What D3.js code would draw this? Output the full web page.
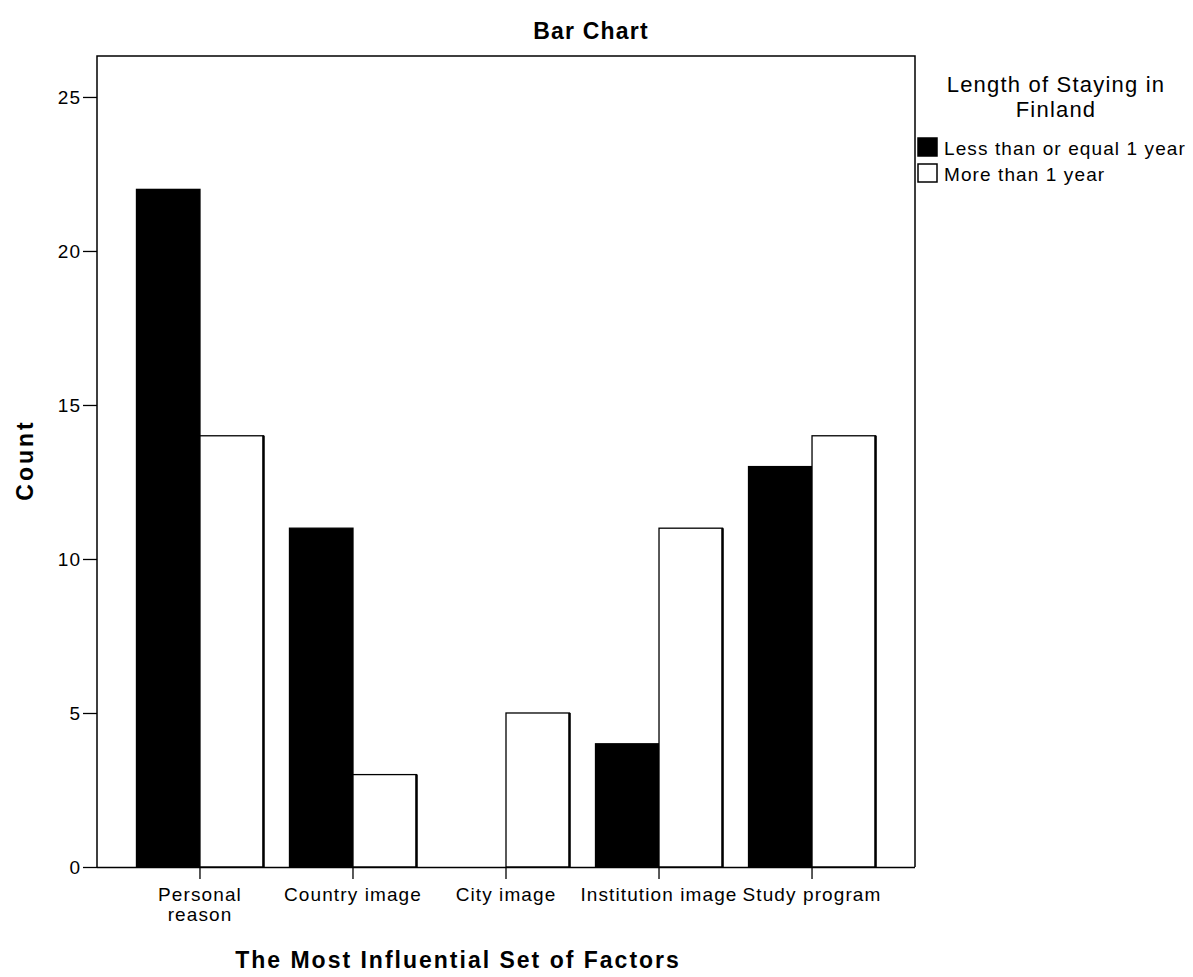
<!DOCTYPE html>
<html>
<head>
<meta charset="utf-8">
<script src="https://cdn.jsdelivr.net/npm/d3@7"></script>
<style>
  html, body { margin: 0; padding: 0; background: #fff; }
  text { font-family: "Liberation Sans", Arial, sans-serif; fill: #000; }
</style>
</head>
<body>
<svg id="chart" width="1193" height="977"></svg>
<script>
// ---- data ----
const categories = ["Personal reason", "Country image", "City image", "Institution image", "Study program"];
const tickLabels = [["Personal", "reason"], ["Country image"], ["City image"], ["Institution image"], ["Study program"]];
const seriesNames = ["Less than or equal 1 year", "More than 1 year"];
const lessValues = [22, 11, 0, 4, 13];
const moreValues = [14, 3, 5, 11, 14];
const yTicks = [0, 5, 10, 15, 20, 25];
const chartTitle = "Bar Chart";
const xTitle = "The Most Influential Set of Factors";
const yTitle = "Count";
const legendTitle = ["Length of Staying in", "Finland"];

// ---- layout ----
const svg = d3.select("#chart");
const plot = { left: 97, right: 915, top: 56, bottom: 867 };
const yMax = 26.33;
const fills = ["#000", "#fff"];

const x = d3.scaleBand().domain(categories).range([plot.left, plot.right])
  .paddingInner(0.17).paddingOuter(0.258);
const xs = d3.scaleBand().domain(seriesNames).range([0, x.bandwidth()]).padding(0);
const y = d3.scaleLinear().domain([0, yMax]).range([plot.bottom, plot.top]);

const rows = [];
categories.forEach((c, i) => {
  rows.push({ cat: c, s: seriesNames[0], v: lessValues[i], fill: fills[0] });
  rows.push({ cat: c, s: seriesNames[1], v: moreValues[i], fill: fills[1] });
});

// bars
const bars = svg.append("g");
bars.selectAll("rect").data(rows.filter(d => d.v > 0)).join("rect")
  .attr("x", d => x(d.cat) + xs(d.s))
  .attr("y", d => y(d.v))
  .attr("width", xs.bandwidth())
  .attr("height", d => y(0) - y(d.v))
  .attr("fill", d => d.fill)
  .attr("stroke", "#000")
  .attr("stroke-width", 1.3);
// heavier right edge on white bars (shadow-like look)
bars.selectAll("line").data(rows.filter(d => d.v > 0 && d.fill === "#fff")).join("line")
  .attr("x1", d => x(d.cat) + xs(d.s) + xs.bandwidth())
  .attr("x2", d => x(d.cat) + xs(d.s) + xs.bandwidth())
  .attr("y1", d => y(d.v))
  .attr("y2", y(0))
  .attr("stroke", "#000")
  .attr("stroke-width", 2.5);

// frame (left, top, right)
svg.append("path")
  .attr("d", `M${plot.left},${plot.bottom}V${plot.top}H${plot.right}V${plot.bottom}`)
  .attr("fill", "none").attr("stroke", "#000").attr("stroke-width", 1.5);

// y axis
const yAxis = svg.append("g").attr("transform", `translate(${plot.left},0)`)
  .call(d3.axisLeft(y).tickValues(yTicks).tickSize(14).tickPadding(2).tickFormat(d3.format("d")));
yAxis.select(".domain").remove();
yAxis.selectAll(".tick line").attr("stroke", "#000").attr("stroke-width", 1.3);
yAxis.selectAll(".tick text")
  .style("font-family", '"Liberation Sans", Arial, sans-serif')
  .style("font-size", "19px").style("letter-spacing", "1px").attr("dy", "0.36em");

// x axis
const xAxis = svg.append("g").attr("transform", `translate(0,${plot.bottom})`)
  .call(d3.axisBottom(x).tickSize(12).tickFormat(() => ""));
xAxis.select(".domain").attr("d", `M${plot.left},0.5H${plot.right}`).attr("stroke", "#000").attr("stroke-width", 1.3);
xAxis.selectAll(".tick line").attr("stroke", "#000").attr("stroke-width", 1.3);
xAxis.selectAll(".tick text").remove();

const xl = svg.append("g");
categories.forEach((c, i) => {
  const t = xl.append("text")
    .attr("x", x(c) + x.bandwidth() / 2)
    .attr("y", 901)
    .attr("text-anchor", "middle")
    .style("font-size", "19px").style("letter-spacing", "1.1px");
  tickLabels[i].forEach((line, j) => {
    t.append("tspan").attr("x", x(c) + x.bandwidth() / 2).attr("dy", j === 0 ? 0 : 20).text(line);
  });
});

// titles
svg.append("text").attr("x", 591).attr("y", 39).attr("text-anchor", "middle")
  .style("font-size", "23px").style("font-weight", "bold").style("letter-spacing", "1.2px")
  .text(chartTitle);
svg.append("text").attr("x", 458).attr("y", 968).attr("text-anchor", "middle")
  .style("font-size", "23px").style("font-weight", "bold").style("letter-spacing", "2px")
  .text(xTitle);
svg.append("text").attr("transform", "translate(33,460) rotate(-90)").attr("text-anchor", "middle")
  .style("font-size", "23px").style("font-weight", "bold").style("letter-spacing", "3px")
  .text(yTitle);

// legend
const lg = svg.append("g");
legendTitle.forEach((line, j) => {
  lg.append("text").attr("x", 1056).attr("y", 92 + j * 25).attr("text-anchor", "middle")
    .style("font-size", "22px").style("letter-spacing", "1.2px").text(line);
});
seriesNames.forEach((s, i) => {
  const yy = 138 + i * 26;
  lg.append("rect").attr("x", 918).attr("y", yy).attr("width", 19).attr("height", 18)
    .attr("fill", fills[i]).attr("stroke", "#000").attr("stroke-width", 1.5);
  lg.append("text").attr("x", 944).attr("y", yy + 17)
    .style("font-size", "19px").style("letter-spacing", "1.1px").text(s);
});
</script>
</body>
</html>
